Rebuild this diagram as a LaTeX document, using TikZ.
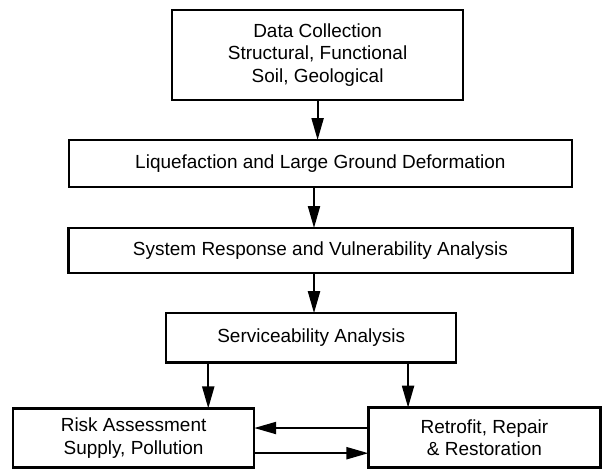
\documentclass[tikz,border=0pt]{standalone}
\usepackage{fontspec}
\setmainfont{Liberation Sans}
\usetikzlibrary{arrows.meta, positioning, calc}

\begin{document}
\begin{tikzpicture}[
    node distance=1cm,
    box/.style={rectangle, draw, line width=1.8pt, outer sep=0pt, align=center, minimum width=#1, inner sep=2pt, font=\fontsize{13.5}{16}\selectfont},
    arrow/.style={-{Triangle[length=0.55cm, width=0.3cm]}, line width=1.5pt}
]
    \useasboundingbox (0,0) rectangle (15.075,-11.8);

    \node[box=7.28cm, minimum height=2.25cm] (data) at (7.94,-1.375) {Data Collection\\Structural, Functional\\Soil, Geological};
    \node[box=12.58cm, minimum height=1.18cm, below=1cm of data, xshift=0.07cm] (liq) {Liquefaction and Large Ground Deformation};
    \node[box=12.6cm, minimum height=1.13cm, below=1.02cm of liq] (sys) {System Response and Vulnerability Analysis};
    \node[box=7.25cm, minimum height=1.23cm, below=1cm of sys, xshift=-0.23cm] (serv) {Serviceability Analysis};
    \node[box=6.03cm, minimum height=1.48cm, below=1.15cm of serv, xshift=-4.44cm] (risk) {Risk Assessment\\Supply, Pollution};
    \node[box=5.8cm, minimum height=1.5cm, below=1.13cm of serv, xshift=4.33cm] (retro) {Retrofit, Repair\\\& Restoration};

    \draw[arrow] (data.south) -- (data.south |- liq.north);
    \draw[arrow] ([xshift=-0.16cm]liq.south) -- ([xshift=-0.16cm]liq.south |- sys.north);
    \draw[arrow] ([xshift=-0.16cm]sys.south) -- ([xshift=-0.16cm]sys.south |- serv.north);
    \coordinate (sl) at ($(serv.south west)!0.145!(serv.south east)$);
    \coordinate (sr) at ($(serv.south west)!0.834!(serv.south east)$);
    \draw[arrow] (sl) -- (sl |- risk.north);
    \draw[arrow] (sr) -- (sr |- retro.north);
    \draw[arrow] ([yshift=0.24cm]retro.west) -- ([yshift=0.24cm]retro.west -| risk.east);
    \draw[arrow] ([yshift=-0.38cm]risk.east) -- ([yshift=-0.38cm]risk.east -| retro.west);
\end{tikzpicture}
\end{document}
